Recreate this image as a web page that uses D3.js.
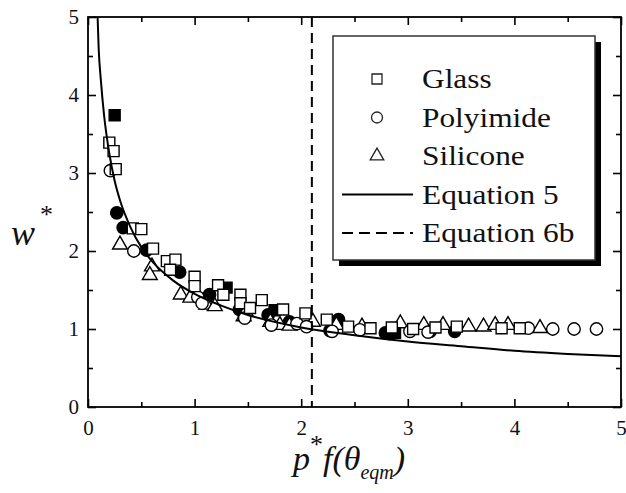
<!DOCTYPE html>
<html>
<head>
<meta charset="utf-8">
<script src="https://cdn.jsdelivr.net/npm/d3@7"></script>
<style>
  html, body { margin: 0; padding: 0; background: #fff; }
  svg { display: block; }
</style>
</head>
<body>
<div id="chart"></div>
<script>
// ticks
const xTicks = [0, 1, 2, 3, 4, 5];
const xMinorTicks = [0.5, 1.5, 2.5, 3.5, 4.5];
const yTicks = [0, 1, 2, 3, 4, 5];
const yMinorTicks = [0.5, 1.5, 2.5, 3.5, 4.5];

// data, [p*f(theta), w*]
const glass = [
  [0.20, 3.39], [0.24, 3.28], [0.26, 3.05], [0.42, 2.29], [0.50, 2.28], [0.61, 2.03],
  [0.74, 1.87], [0.82, 1.89], [0.77, 1.76], [1.00, 1.67], [1.00, 1.55], [1.22, 1.56],
  [1.27, 1.44], [1.43, 1.44], [1.43, 1.33], [1.52, 1.27], [1.63, 1.37], [1.83, 1.25],
  [2.04, 1.20], [2.24, 1.12], [2.44, 1.03], [2.65, 1.01], [2.85, 1.02], [3.05, 1.00],
  [3.26, 1.02], [3.46, 1.03], [3.88, 1.01], [4.05, 1.01]
];
const glassFilled = [[0.25, 3.74], [1.30, 1.53], [1.75, 1.24], [2.88, 0.95]];
const polyimide = [
  [0.21, 3.03], [0.43, 2.00], [1.03, 1.41], [1.07, 1.33], [1.47, 1.14], [1.72, 1.05],
  [1.96, 1.07], [2.05, 1.03], [2.29, 0.97], [2.55, 0.99], [3.02, 0.97], [3.19, 0.96],
  [4.13, 1.01], [4.36, 1.00], [4.56, 1.00], [4.77, 1.00]
];
const polyimideFilled = [
  [0.27, 2.49], [0.33, 2.30], [0.55, 2.01], [0.86, 1.73], [1.14, 1.44], [1.42, 1.25],
  [1.69, 1.18], [1.89, 1.09], [2.27, 0.98], [2.35, 1.12], [2.79, 0.95], [2.83, 0.94],
  [3.21, 0.97], [3.44, 0.97]
];
const silicone = [
  [0.30, 2.08], [0.60, 1.80], [0.58, 1.69], [0.87, 1.44], [0.96, 1.40], [1.11, 1.31],
  [1.19, 1.29], [1.46, 1.16], [1.48, 1.22], [1.71, 1.09], [1.80, 1.05], [1.89, 1.04],
  [2.11, 1.09], [2.33, 1.05], [2.57, 1.03], [2.93, 1.07], [3.15, 1.05], [3.33, 1.05],
  [3.57, 1.03], [3.71, 1.03], [3.82, 1.05], [3.94, 1.05], [4.24, 1.01]
];
// Equation 5 curve
const eq5 = [
  [0.09, 5.0], [0.10, 4.6], [0.12, 4.2], [0.15, 3.75], [0.20, 3.25], [0.25, 2.9],
  [0.30, 2.65], [0.40, 2.3], [0.50, 2.05], [0.60, 1.87], [0.80, 1.62], [1.00, 1.45],
  [1.25, 1.3], [1.50, 1.18], [2.00, 1.02], [2.50, 0.92], [3.00, 0.84], [3.50, 0.78],
  [4.00, 0.72], [4.50, 0.68], [5.00, 0.65]
];
// Equation 6b
const eq6bX = 2.1;

const legendItems = [
  { label: 'Glass', type: 'square' },
  { label: 'Polyimide', type: 'circle' },
  { label: 'Silicone', type: 'triangle' },
  { label: 'Equation 5', type: 'line' },
  { label: 'Equation 6b', type: 'dash' }
];

const FONT = '"Liberation Serif", "Times New Roman", serif';
const width = 626, height = 493;
const margin = { top: 17, right: 5, bottom: 86, left: 88 };
const innerW = width - margin.left - margin.right;
const innerH = height - margin.top - margin.bottom;

const svg = d3.select('#chart').append('svg')
  .attr('width', width)
  .attr('height', height)
  .attr('font-family', FONT);

const chart = svg.append('g')
  .attr('transform', `translate(${margin.left},${margin.top})`);

const x = d3.scaleLinear([0, 5], [0, innerW]);
const y = d3.scaleLinear([0, 5], [innerH, 0]);

chart.append('clipPath').attr('id', 'clip')
  .append('rect').attr('width', innerW).attr('height', innerH);

// axes, ticks all point inward
function styleAxis(g) {
  g.attr('font-family', FONT).attr('font-size', null);
  g.select('.domain').remove();
  g.selectAll('line').attr('stroke', '#000').attr('stroke-width', 1.6);
  g.selectAll('text').attr('font-size', 21).attr('fill', '#111');
}

chart.append('g').attr('transform', `translate(0,${innerH})`)
  .call(d3.axisBottom(x).tickValues(xTicks).tickSize(-8).tickPadding(13).tickFormat(d3.format('d')))
  .call(styleAxis);
chart.append('g').attr('transform', `translate(0,${innerH})`)
  .call(d3.axisBottom(x).tickValues(xMinorTicks).tickSize(-5).tickFormat(''))
  .call(styleAxis);
chart.append('g')
  .call(d3.axisTop(x).tickValues(xTicks).tickSize(-8).tickFormat(''))
  .call(styleAxis);
chart.append('g')
  .call(d3.axisTop(x).tickValues(xMinorTicks).tickSize(-5).tickFormat(''))
  .call(styleAxis);

chart.append('g')
  .call(d3.axisLeft(y).tickValues(yTicks).tickSize(-8).tickPadding(9).tickFormat(d3.format('d')))
  .call(styleAxis);
chart.append('g')
  .call(d3.axisLeft(y).tickValues(yMinorTicks).tickSize(-5).tickFormat(''))
  .call(styleAxis);
chart.append('g').attr('transform', `translate(${innerW},0)`)
  .call(d3.axisRight(y).tickValues(yTicks).tickSize(-8).tickFormat(''))
  .call(styleAxis);
chart.append('g').attr('transform', `translate(${innerW},0)`)
  .call(d3.axisRight(y).tickValues(yMinorTicks).tickSize(-5).tickFormat(''))
  .call(styleAxis);

// symbols
const symSquare = d3.symbol(d3.symbolSquare, 121);
const symCircle = d3.symbol(d3.symbolCircle, 120);
const symTriangle = d3.symbol(d3.symbolTriangle, 95);

function drawPoints(data, sym, filled, cls) {
  chart.append('g').attr('class', cls)
    .selectAll('path')
    .data(data)
    .join('path')
    .attr('d', sym)
    .attr('transform', d => `translate(${x(d[0])},${y(d[1])})`)
    .attr('fill', filled ? '#000' : '#fff')
    .attr('stroke', '#000')
    .attr('stroke-width', 1.4);
}

drawPoints(polyimideFilled, symCircle, true, 'polyimide-filled');
drawPoints(glassFilled, symSquare, true, 'glass-filled');
drawPoints(silicone, symTriangle, false, 'silicone');
drawPoints(polyimide, symCircle, false, 'polyimide');
drawPoints(glass, symSquare, false, 'glass');

// Equation 5
chart.append('path')
  .datum(eq5)
  .attr('clip-path', 'url(#clip)')
  .attr('fill', 'none')
  .attr('stroke', '#000')
  .attr('stroke-width', 2)
  .attr('d', d3.line().x(d => x(d[0])).y(d => y(d[1])).curve(d3.curveMonotoneX));

// Equation 6b
chart.append('line')
  .attr('x1', x(eq6bX)).attr('x2', x(eq6bX))
  .attr('y1', y(5)).attr('y2', y(0))
  .attr('stroke', '#000')
  .attr('stroke-width', 2)
  .attr('stroke-dasharray', '10,6');

// frame
chart.append('rect')
  .attr('width', innerW).attr('height', innerH)
  .attr('fill', 'none').attr('stroke', '#000').attr('stroke-width', 1.8);

// legend with drop shadow
const legend = svg.append('g').attr('transform', 'translate(333,36)');
legend.append('rect')
  .attr('x', 6).attr('y', 6).attr('width', 262).attr('height', 224)
  .attr('fill', '#000');
legend.append('rect')
  .attr('width', 262).attr('height', 224)
  .attr('fill', '#fff').attr('stroke', '#333').attr('stroke-width', 1.5);

const rows = legend.selectAll('g.row')
  .data(legendItems)
  .join('g')
  .attr('class', 'row')
  .attr('transform', (d, i) => `translate(0,${43 + i * 38.5})`);

// text in the picture is a little wider than the font, stretch it
rows.append('text')
  .attr('transform', 'translate(89,9) scale(1.12,1)')
  .attr('font-size', 28)
  .attr('fill', '#111')
  .text(d => d.label);

const legendSym = {
  square: d3.symbol(d3.symbolSquare, 100),
  circle: d3.symbol(d3.symbolCircle, 95),
  triangle: d3.symbol(d3.symbolTriangle, 80)
};
rows.filter(d => legendSym[d.type])
  .append('path')
  .attr('transform', 'translate(44,0)')
  .attr('d', d => legendSym[d.type]())
  .attr('fill', '#fff').attr('stroke', '#222').attr('stroke-width', 1.3);
rows.filter(d => d.type === 'line' || d.type === 'dash')
  .append('line')
  .attr('x1', 9).attr('x2', 80)
  .attr('stroke', '#000').attr('stroke-width', 2)
  .attr('stroke-dasharray', d => d.type === 'dash' ? '11,6' : null);

// axis titles
svg.append('text')
  .attr('x', 293).attr('y', 470)
  .attr('font-size', 34)
  .attr('font-style', 'italic')
  .attr('fill', '#111')
  .call(t => {
    t.append('tspan').text('p');
    t.append('tspan').attr('font-style', 'normal').attr('font-size', 26).attr('dy', -17).text('*');
    t.append('tspan').attr('dy', 17).text('f(θ');
    t.append('tspan').attr('font-size', 20).attr('dy', 9).text('eqm');
    t.append('tspan').attr('dy', -9).text(')');
  });

svg.append('text')
  .attr('x', 11).attr('y', 245)
  .attr('font-size', 36)
  .attr('font-style', 'italic')
  .attr('fill', '#111')
  .call(t => {
    t.append('tspan').text('w');
    t.append('tspan').attr('font-style', 'normal').attr('font-size', 26).attr('dx', 5).attr('dy', -22).text('*');
  });
</script>
</body>
</html>
